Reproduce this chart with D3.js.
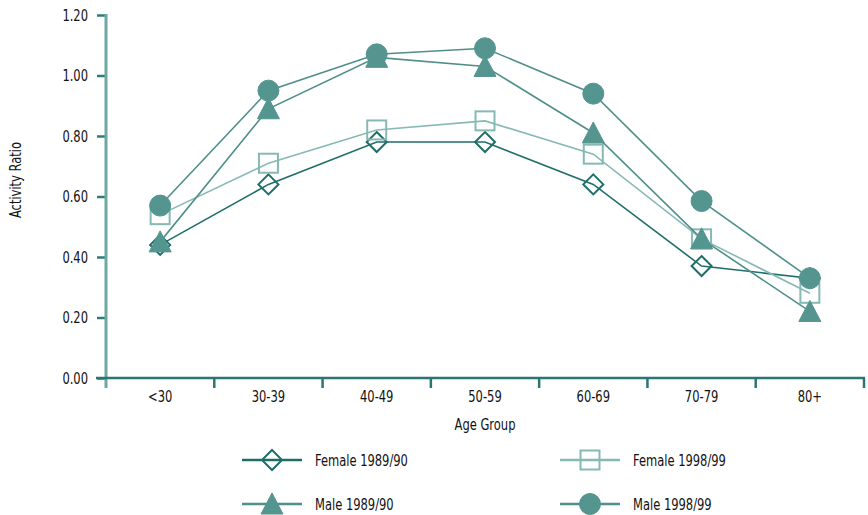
<!DOCTYPE html>
<html><head><meta charset="utf-8">
<script src="https://cdn.jsdelivr.net/npm/d3@7"></script>
<style>
body{margin:0;background:#fff;}
text{font-family:'DejaVu Sans Condensed','DejaVu Sans',sans-serif;fill:#111;}
</style></head>
<body><svg id="c" width="868" height="515"></svg>
<script>
const categories = ["<30","30-39","40-49","50-59","60-69","70-79","80+"];
const female1989 = [0.44,0.64,0.78,0.78,0.64,0.37,0.33];
const female1998 = [0.54,0.71,0.82,0.85,0.74,0.46,0.28];
const male1989   = [0.45,0.89,1.06,1.03,0.81,0.46,0.22];
const male1998   = [0.57,0.95,1.07,1.09,0.94,0.585,0.33];
const yTicks = [0,0.2,0.4,0.6,0.8,1.0,1.2];

const series = [
  {name:"Female 1989/90", values:female1989, shape:"diamond", stroke:"#1f6e69", fill:"#fff", line:"#1f6e69"},
  {name:"Female 1998/99", values:female1998, shape:"square", stroke:"#86b9b4", fill:"#fff", line:"#86b9b4"},
  {name:"Male 1989/90", values:male1989, shape:"triangle", stroke:"#55958f", fill:"#55958f", line:"#4f8f8a"},
  {name:"Male 1998/99", values:male1998, shape:"circle", stroke:"#55958f", fill:"#55958f", line:"#4f8f8a"}
];

const SX = 0.8, FS = 16;
const svg = d3.select("#c");
const x = d3.scaleBand().domain(categories).range([106,864]);
const y = d3.scaleLinear().domain([0,1.2]).range([378,15]);

function narrow(sel, xpos){
  sel.attr("font-size",FS).attr("transform",`scale(${SX},1)`).attr("fill","#111")
     .attr("font-family","'DejaVu Sans Condensed','DejaVu Sans',sans-serif");
  if(xpos!==undefined) sel.attr("x", xpos/SX);
}

// y axis
const ya = svg.append("g").attr("transform","translate(106,0)")
  .call(d3.axisLeft(y).tickValues(yTicks).tickFormat(d3.format(".2f")).tickSize(9).tickPadding(9));
ya.select(".domain").remove();
ya.selectAll(".tick line").attr("stroke","#2f7d78").attr("stroke-width",2.5);
narrow(ya.selectAll(".tick text"), -18);
svg.append("line").attr("x1",106).attr("x2",106).attr("y1",y(1.2)-1).attr("y2",388)
  .attr("stroke","#6ea8a3").attr("stroke-width",3);

// x axis
const xa = svg.append("g").attr("transform","translate(0,378)")
  .call(d3.axisBottom(x).tickSize(0).tickPadding(13));
xa.select(".domain").remove();
narrow(xa.selectAll(".tick text"), 0);
svg.append("line").attr("x1",96).attr("x2",865).attr("y1",378).attr("y2",378)
  .attr("stroke","#2a7672").attr("stroke-width",2.5);
categories.forEach(c=>{
  const bx = x(c)+x.bandwidth();
  svg.append("line").attr("x1",bx).attr("x2",bx).attr("y1",378).attr("y2",388)
    .attr("stroke","#2a7672").attr("stroke-width",2.5);
});

// titles
svg.append("g").attr("transform","translate(21,180) rotate(-90)")
  .append("text").attr("text-anchor","middle").call(narrow).text("Activity Ratio");
svg.append("g").attr("transform","translate(485,430)")
  .append("text").attr("text-anchor","middle").call(narrow).text("Age Group");

function drawMarker(g, shape, cx, cy, s){
  if(shape==="circle"){
    g.append("circle").attr("cx",cx).attr("cy",cy).attr("r",10.5)
      .attr("fill",s.fill).attr("stroke",s.stroke).attr("stroke-width",1);
  } else if(shape==="square"){
    g.append("rect").attr("x",cx-9.5).attr("y",cy-9.5).attr("width",19).attr("height",19)
      .attr("fill","none").attr("stroke",s.stroke).attr("stroke-width",2);
  } else if(shape==="diamond"){
    g.append("path").attr("d",`M${cx},${cy-10}L${cx+10},${cy}L${cx},${cy+10}L${cx-10},${cy}Z`)
      .attr("fill","none").attr("stroke",s.stroke).attr("stroke-width",2);
  } else {
    g.append("path").attr("d",`M${cx},${cy-11}L${cx+11},${cy+10}L${cx-11},${cy+10}Z`)
      .attr("fill",s.fill).attr("stroke",s.stroke).attr("stroke-width",1);
  }
}

const line = d3.line().x((d,i)=>x(categories[i])+x.bandwidth()/2).y(d=>y(d));
series.forEach(s=>{
  const g = svg.append("g");
  g.append("path").attr("d",line(s.values)).attr("fill","none")
    .attr("stroke",s.line).attr("stroke-width",1.6);
  s.values.forEach((v,i)=>drawMarker(g,s.shape,x(categories[i])+x.bandwidth()/2,y(v),s));
});

// legend
const legPos = [[242,460],[560,460],[242,504],[560,504]];
series.forEach((s,i)=>{
  const [lx,ly] = legPos[i];
  const g = svg.append("g");
  g.append("line").attr("x1",lx).attr("x2",lx+60).attr("y1",ly).attr("y2",ly)
    .attr("stroke",s.line).attr("stroke-width",2.5);
  drawMarker(g,s.shape,lx+30,ly,s);
  g.append("g").attr("transform",`translate(${lx+73},${ly+6})`)
    .append("text").call(narrow).text(s.name);
});
</script></body></html>
